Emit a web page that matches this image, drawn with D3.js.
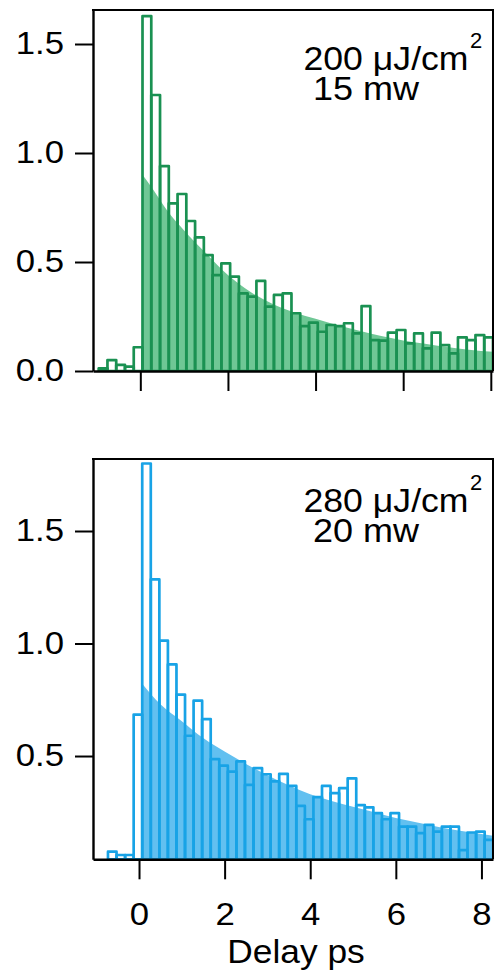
<!DOCTYPE html>
<html><head><meta charset="utf-8">
<script src="https://cdn.jsdelivr.net/npm/d3@7"></script>
<style>body{margin:0;background:#fff}svg{display:block}</style>
</head><body>
<svg id="c" width="495" height="973"></svg>
<script>
// ---------- data ----------
const binWidth = 0.2;
const topBinStart = -0.95;
const topValues = [0.012, 0.05, 0.028, 0.02, 0.109,
  1.628, 1.266, 0.94, 0.769, 0.812, 0.688, 0.613, 0.532, 0.44, 0.494,
  0.433, 0.356, 0.341, 0.413, 0.295, 0.349, 0.356, 0.265, 0.206, 0.222,
  0.18, 0.211, 0.206, 0.219, 0.173, 0.298, 0.142, 0.139, 0.176, 0.188,
  0.127, 0.173, 0.104, 0.176, 0.119, 0.081, 0.154, 0.142, 0.165, 0.154];
const topFitT = [0.05, 0.3, 0.6, 1.0, 1.5, 2.0, 2.5, 3.0, 3.5, 4.0, 4.5, 5.0, 5.5, 6.0, 6.5, 7.0, 7.5, 8.1];
const topFitV = [0.90, 0.83, 0.74, 0.645, 0.54, 0.44, 0.365, 0.31, 0.27, 0.24, 0.21, 0.185, 0.16, 0.14, 0.125, 0.11, 0.098, 0.087];

const bottomBinStart = -0.725;
const bottomValues = [0.075, 0.06, 0.06,
  0.684, 1.80, 1.285, 1.013, 0.907, 0.773, 0.59, 0.746, 0.664, 0.486,
  0.457, 0.431, 0.476, 0.372, 0.446, 0.419, 0.387, 0.421, 0.367, 0.278,
  0.219, 0.317, 0.367, 0.335, 0.357, 0.401, 0.282, 0.272, 0.246, 0.219,
  0.246, 0.186, 0.186, 0.157, 0.194, 0.164, 0.186, 0.186, 0.082, 0.16,
  0.164, 0.127];
const bottomFitT = [0.08, 0.5, 1.0, 1.5, 2.0, 2.5, 3.0, 3.5, 4.0, 4.5, 5.0, 5.5, 6.0, 6.5, 7.0, 7.5, 8.3];
const bottomFitV = [0.82, 0.73, 0.655, 0.58, 0.52, 0.465, 0.415, 0.37, 0.33, 0.30, 0.275, 0.25, 0.225, 0.205, 0.185, 0.168, 0.145];

const xTicks = [0, 2, 4, 6, 8];
const topYTicks = [0, 0.5, 1.0, 1.5];
const bottomYTicks = [0.5, 1.0, 1.5];
const topLabels = ["200 \u03BCJ/cm", "2", "15 mw"];
const bottomLabels = ["280 \u03BCJ/cm", "2", "20 mw"];
const xTitle = "Delay ps";

// ---------- drawing ----------
const FONT = "'Liberation Sans', Arial, Helvetica, sans-serif";
const svg = d3.select("#c");

function stretch(sel, f) {
  sel.each(function () {
    const len = this.getComputedTextLength();
    d3.select(this).attr("textLength", len * f).attr("lengthAdjust", "spacingAndGlyphs");
  });
}

function panel(cfg) {
  const g = svg.append("g");
  const x = d3.scaleLinear().domain(cfg.xDomain).range([93, 493]);
  const y = d3.scaleLinear().domain(cfg.yDomain).range([cfg.bottom, cfg.top]);
  const clipId = "clip" + cfg.id;
  svg.append("clipPath").attr("id", clipId).append("rect")
    .attr("x", 93).attr("y", cfg.top).attr("width", 400).attr("height", cfg.bottom - cfg.top);

  const plot = g.append("g").attr("clip-path", `url(#${clipId})`);
  const fit = cfg.fitT.map((t, i) => [t, cfg.fitV[i]]);
  plot.append("path").datum(fit)
    .attr("fill", cfg.fill).attr("stroke", "none")
    .attr("d", d3.area().x(d => x(d[0])).y0(y(cfg.yDomain[0])).y1(d => y(d[1])).curve(d3.curveMonotoneX));

  const bins = cfg.values.map((v, i) => ({ x0: cfg.binStart + i * binWidth, v }));
  plot.selectAll("rect.bar").data(bins).join("rect").attr("class", "bar")
    .attr("x", d => x(d.x0)).attr("width", d => x(d.x0 + binWidth) - x(d.x0))
    .attr("y", d => y(d.v)).attr("height", d => y(cfg.yDomain[0]) - y(d.v))
    .attr("fill", "none").attr("stroke", cfg.stroke).attr("stroke-width", 2.7)
    .attr("stroke-linejoin", "round");

  // axes
  const ya = g.append("g").attr("transform", "translate(93,0)")
    .call(d3.axisLeft(y).tickValues(cfg.yTicks).tickFormat(d3.format(".1f")).tickSize(18).tickSizeOuter(0).tickPadding(11));
  const xa = g.append("g").attr("transform", `translate(0,${cfg.bottom})`)
    .call(d3.axisBottom(x).tickValues(xTicks).tickSize(20).tickSizeOuter(0).tickPadding(24)
      .tickFormat(cfg.xLabels ? d3.format("d") : () => ""));
  [ya, xa].forEach(a => {
    a.selectAll("path.domain").attr("stroke", "#000").attr("stroke-width", 2.4);
    a.selectAll(".tick line").attr("stroke", "#000").attr("stroke-width", 2);
    const tx = a.selectAll("text").attr("fill", "#000").style("font-family", FONT).style("font-size", "31px");
    stretch(tx, 1.12);
  });
  // frame top + right
  g.append("path").attr("d", `M92,${cfg.top}H493V${cfg.bottom}`)
    .attr("fill", "none").attr("stroke", "#000").attr("stroke-width", 2);

  // annotation (one text element, superscript and second line as tspans)
  const t = g.append("text").attr("x", 303.5).attr("y", cfg.top + cfg.lab1)
    .style("font-family", FONT).style("font-size", "33px").attr("fill", "#000");
  t.append("tspan").attr("textLength", 165).attr("lengthAdjust", "spacingAndGlyphs").text(cfg.labels[0]);
  t.append("tspan").attr("x", 303.5 + 165 + 1.5).attr("dy", -22).style("font-size", "22px").text(cfg.labels[1]);
  t.append("tspan").attr("x", cfg.lab2x).attr("dy", 52)
    .attr("textLength", 106).attr("lengthAdjust", "spacingAndGlyphs").text(cfg.labels[2]);
}

panel({ id: "t", xDomain: [-1.08, 8.05], yDomain: [0, 1.656], top: 10, bottom: 371,
  values: topValues, binStart: topBinStart, fitT: topFitT, fitV: topFitV,
  fill: "#6fc795", stroke: "#1a9152", yTicks: topYTicks, xLabels: false,
  labels: topLabels, lab1: 60, lab2x: 313 });
panel({ id: "b", xDomain: [-1.075, 8.27], yDomain: [0.041, 1.82], top: 459, bottom: 859.3,
  values: bottomValues, binStart: bottomBinStart, fitT: bottomFitT, fitV: bottomFitV,
  fill: "#62c0f0", stroke: "#18a3e6", yTicks: bottomYTicks, xLabels: true,
  labels: bottomLabels, lab1: 52.7, lab2x: 313 });

const title = svg.append("text").attr("x", 296).attr("y", 963).attr("text-anchor", "middle").text(xTitle)
  .style("font-family", FONT).style("font-size", "33px").attr("fill", "#000");
stretch(title, 1.07);
</script>
</body></html>
